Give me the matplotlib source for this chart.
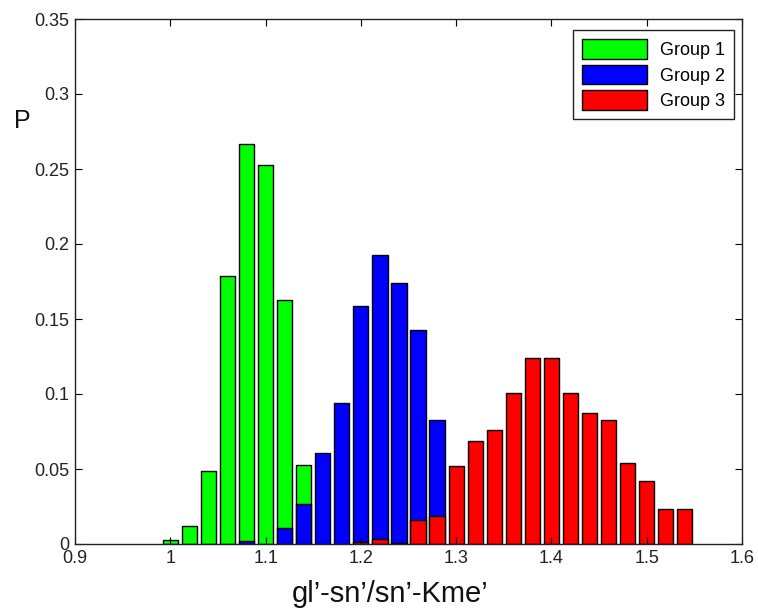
import matplotlib
matplotlib.use("Agg")
import matplotlib.pyplot as plt
import numpy as np

plt.rcParams['font.family'] = ['Liberation Sans', 'DejaVu Sans']

# bin centres and probabilities
g1_x = [1.00, 1.02, 1.04, 1.06, 1.08, 1.10, 1.12, 1.14]
g1_p = [0.003, 0.012, 0.0486, 0.179, 0.267, 0.253, 0.163, 0.053]

g2_x = [1.08, 1.12, 1.14, 1.16, 1.18, 1.20, 1.22, 1.24, 1.26, 1.28]
g2_p = [0.002, 0.011, 0.027, 0.061, 0.094, 0.159, 0.1926, 0.174, 0.1425, 0.0826]

g3_x = [1.20, 1.22, 1.24, 1.26, 1.28, 1.30, 1.32, 1.34, 1.36, 1.38,
        1.40, 1.42, 1.44, 1.46, 1.48, 1.50, 1.52, 1.54]
g3_p = [0.0015, 0.0033, 0.001, 0.016, 0.0188, 0.0517, 0.069, 0.076, 0.1007, 0.124,
        0.124, 0.1007, 0.0875, 0.0826, 0.054, 0.0417, 0.0232, 0.0232]

labels = ["Group 1", "Group 2", "Group 3"]
colors = ["#00ff00", "#0000ff", "#ff0000"]

xticks = [0.9, 1.0, 1.1, 1.2, 1.3, 1.4, 1.5, 1.6]
xticklabels = ["0.9", "1", "1.1", "1.2", "1.3", "1.4", "1.5", "1.6"]
yticks = [0, 0.05, 0.1, 0.15, 0.2, 0.25, 0.3, 0.35]
yticklabels = ["0", "0.05", "0.1", "0.15", "0.2", "0.25", "0.3", "0.35"]

W, H = 758, 611
fig = plt.figure(figsize=(W / 100, H / 100), dpi=100)
ax = fig.add_axes([75 / W, 1 - 544 / H, (742 - 75) / W, (544 - 19) / H])

width = 0.016
for xs, ps, c, lab in zip([g1_x, g2_x, g3_x], [g1_p, g2_p, g3_p], colors, labels):
    ax.bar(xs, ps, width=width, color=c, edgecolor="black", linewidth=1.0, label=lab)

ax.set_xlim(0.9, 1.6)
ax.set_ylim(0, 0.35)
ax.set_xticks(xticks)
ax.set_xticklabels(xticklabels)
ax.set_yticks(yticks)
ax.set_yticklabels(yticklabels)
ax.tick_params(direction="in", length=5, width=0.8, top=True, right=True,
               labelsize=13, labelcolor="#222222", pad=4)
for s in ax.spines.values():
    s.set_linewidth(1.0)
    s.set_color("#222222")

ax.set_xlabel("gl\u2019-sn\u2019/sn\u2019-Kme\u2019", fontsize=21, color="#111111")
ax.xaxis.set_label_coords(0.472, -0.068)
ax.xaxis.label.set_va("top")
fig.text(22 / W, 1 - 121 / H, "P", fontsize=18, ha="center", va="center", color="#111111")

# legend box: right edge ~734px, top ~30px
leg = ax.legend(loc="upper right", bbox_to_anchor=(734 / W, 1 - 30 / H),
                bbox_transform=fig.transFigure, fontsize=13, fancybox=False,
                framealpha=1, edgecolor="#222222", handlelength=3.6, handleheight=1.3,
                labelspacing=0.32, borderaxespad=0, borderpad=0.5, handletextpad=0.7)
leg.get_frame().set_linewidth(1.0)

fig.savefig("out.png", dpi=100)
